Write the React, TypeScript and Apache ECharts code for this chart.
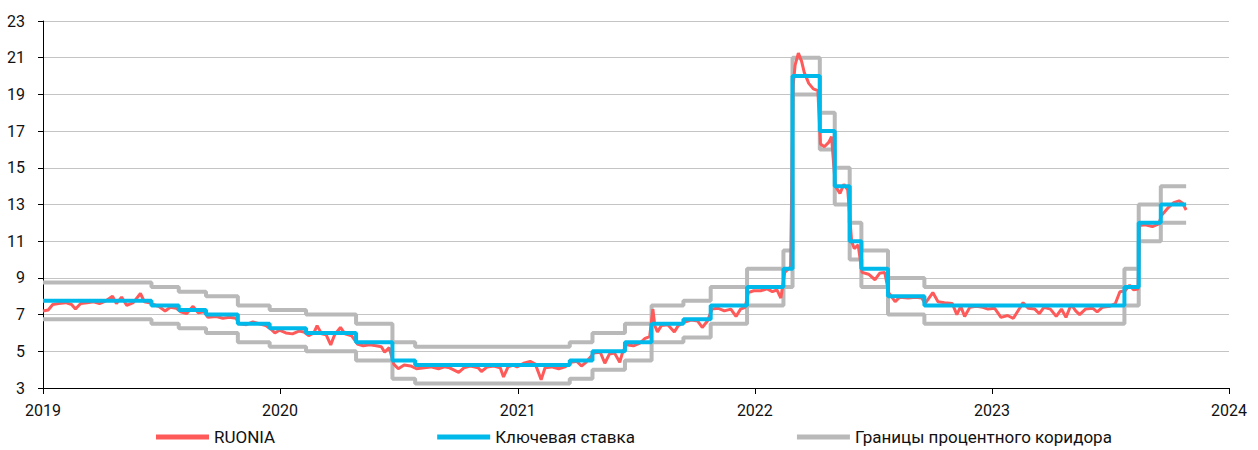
import React, { useEffect, useRef } from "react";
import * as echarts from "echarts";

// RUONIA, %
const ruonia: [string, number][] = [
  ["2019-01-01", 7.2], ["2019-01-09", 7.25], ["2019-01-16", 7.55], ["2019-01-25", 7.6], ["2019-02-05", 7.65],
  ["2019-02-14", 7.55], ["2019-02-20", 7.3], ["2019-02-28", 7.6], ["2019-03-10", 7.65], ["2019-03-20", 7.7],
  ["2019-03-29", 7.6], ["2019-04-08", 7.75], ["2019-04-18", 8.0], ["2019-04-24", 7.6], ["2019-05-02", 7.95],
  ["2019-05-10", 7.5], ["2019-05-20", 7.65], ["2019-05-31", 8.15], ["2019-06-06", 7.7], ["2019-06-14", 7.65],
  ["2019-06-20", 7.55], ["2019-06-28", 7.45], ["2019-07-08", 7.2], ["2019-07-16", 7.4], ["2019-07-25", 7.35],
  ["2019-08-01", 7.15], ["2019-08-10", 7.05], ["2019-08-20", 7.45], ["2019-08-28", 7.1], ["2019-09-06", 7.15],
  ["2019-09-12", 6.85], ["2019-09-25", 6.9], ["2019-10-05", 6.8], ["2019-10-15", 6.85], ["2019-10-25", 6.8],
  ["2019-10-31", 6.5], ["2019-11-10", 6.45], ["2019-11-20", 6.6], ["2019-11-30", 6.5], ["2019-12-10", 6.4],
  ["2019-12-18", 6.2], ["2019-12-24", 6.0], ["2019-12-31", 6.15],
  ["2020-01-10", 6.0], ["2020-01-20", 5.95], ["2020-01-30", 6.1], ["2020-02-07", 6.05], ["2020-02-14", 5.85],
  ["2020-02-22", 6.0], ["2020-02-27", 6.4], ["2020-03-05", 5.95], ["2020-03-12", 5.9], ["2020-03-19", 5.35],
  ["2020-03-25", 5.9], ["2020-04-03", 6.3], ["2020-04-10", 5.95], ["2020-04-20", 5.85], ["2020-04-29", 5.4],
  ["2020-05-08", 5.3], ["2020-05-18", 5.35], ["2020-05-28", 5.3], ["2020-06-05", 5.25], ["2020-06-10", 4.95],
  ["2020-06-17", 5.2], ["2020-06-24", 4.3], ["2020-07-01", 4.05], ["2020-07-10", 4.25], ["2020-07-20", 4.2],
  ["2020-07-29", 4.05], ["2020-08-10", 4.1], ["2020-08-20", 4.15], ["2020-09-01", 4.05], ["2020-09-10", 4.15],
  ["2020-09-18", 4.1], ["2020-10-02", 3.85], ["2020-10-10", 4.1], ["2020-10-20", 4.2], ["2020-11-01", 4.1],
  ["2020-11-06", 3.9], ["2020-11-15", 4.15], ["2020-11-25", 4.2], ["2020-12-05", 4.1], ["2020-12-10", 3.6],
  ["2020-12-17", 4.15], ["2020-12-25", 4.25], ["2020-12-31", 4.15],
  ["2021-01-10", 4.35], ["2021-01-20", 4.45], ["2021-01-28", 4.3], ["2021-02-06", 3.45], ["2021-02-12", 4.1],
  ["2021-02-22", 4.15], ["2021-03-05", 4.05], ["2021-03-15", 4.15], ["2021-03-24", 4.4], ["2021-04-02", 4.45],
  ["2021-04-09", 4.2], ["2021-04-16", 4.4], ["2021-04-28", 4.9], ["2021-05-08", 4.95], ["2021-05-15", 4.35],
  ["2021-05-22", 4.85], ["2021-05-30", 4.9], ["2021-06-07", 4.4], ["2021-06-11", 4.9], ["2021-06-17", 5.35],
  ["2021-06-28", 5.3], ["2021-07-08", 5.45], ["2021-07-16", 5.7], ["2021-07-23", 5.8], ["2021-07-28", 7.3],
  ["2021-07-31", 6.4], ["2021-08-04", 6.05], ["2021-08-10", 6.4], ["2021-08-20", 6.45], ["2021-08-30", 6.05],
  ["2021-09-05", 6.4], ["2021-09-15", 6.6], ["2021-09-25", 6.7], ["2021-10-05", 6.65], ["2021-10-12", 6.3],
  ["2021-10-20", 6.65], ["2021-10-27", 7.3], ["2021-11-05", 7.35], ["2021-11-15", 7.2], ["2021-11-25", 7.3],
  ["2021-12-03", 6.9], ["2021-12-10", 7.3], ["2021-12-17", 7.4], ["2021-12-22", 8.2], ["2021-12-30", 8.3],
  ["2022-01-10", 8.3], ["2022-01-20", 8.4], ["2022-01-28", 8.25], ["2022-02-04", 8.35], ["2022-02-10", 7.9],
  ["2022-02-16", 9.3], ["2022-02-22", 9.5], ["2022-02-25", 9.6], ["2022-03-01", 19.5], ["2022-03-04", 20.6],
  ["2022-03-09", 21.25], ["2022-03-14", 20.8], ["2022-03-18", 20.2], ["2022-03-25", 19.6], ["2022-04-01", 19.3],
  ["2022-04-08", 19.2], ["2022-04-12", 16.3], ["2022-04-18", 16.15], ["2022-04-25", 16.4], ["2022-04-29", 16.7],
  ["2022-05-05", 14.0], ["2022-05-12", 13.6], ["2022-05-18", 14.1], ["2022-05-24", 13.8], ["2022-05-30", 11.0],
  ["2022-06-03", 10.6], ["2022-06-09", 10.8], ["2022-06-15", 9.3], ["2022-06-25", 9.2], ["2022-07-05", 8.9],
  ["2022-07-12", 9.25], ["2022-07-20", 9.3], ["2022-07-26", 8.2], ["2022-08-05", 7.7], ["2022-08-12", 7.95],
  ["2022-08-25", 7.9], ["2022-09-05", 7.95], ["2022-09-15", 7.9], ["2022-09-20", 7.6], ["2022-10-02", 8.2],
  ["2022-10-10", 7.7], ["2022-10-20", 7.65], ["2022-11-01", 7.6], ["2022-11-08", 7.0], ["2022-11-14", 7.45],
  ["2022-11-20", 6.9], ["2022-11-28", 7.4], ["2022-12-08", 7.45], ["2022-12-18", 7.4], ["2022-12-26", 7.3],
  ["2023-01-05", 7.35], ["2023-01-15", 6.85], ["2023-01-25", 6.95], ["2023-02-03", 6.8], ["2023-02-10", 7.2],
  ["2023-02-18", 7.65], ["2023-02-26", 7.35], ["2023-03-08", 7.3], ["2023-03-15", 7.05], ["2023-03-22", 7.4],
  ["2023-04-01", 7.3], ["2023-04-10", 6.9], ["2023-04-18", 7.3], ["2023-04-25", 6.85], ["2023-05-03", 7.55],
  ["2023-05-10", 7.2], ["2023-05-16", 7.0], ["2023-05-25", 7.3], ["2023-06-05", 7.35], ["2023-06-12", 7.15],
  ["2023-06-20", 7.4], ["2023-07-01", 7.45], ["2023-07-10", 7.6], ["2023-07-17", 8.25], ["2023-07-25", 8.3],
  ["2023-08-01", 8.6], ["2023-08-07", 8.35], ["2023-08-14", 8.4], ["2023-08-16", 11.85], ["2023-08-25", 11.9],
  ["2023-09-05", 11.8], ["2023-09-15", 11.95], ["2023-09-19", 12.4], ["2023-09-30", 12.85], ["2023-10-08", 13.1],
  ["2023-10-16", 13.2], ["2023-10-22", 13.05], ["2023-10-27", 12.7],
];

// Key rate decisions (date from which the value applies), last entry = end of data
const keyDates = [
  "2019-01-01", "2019-06-17", "2019-07-29", "2019-09-09", "2019-10-28", "2019-12-16", "2020-02-10",
  "2020-04-27", "2020-06-22", "2020-07-27", "2021-03-22", "2021-04-26", "2021-06-15", "2021-07-26",
  "2021-09-13", "2021-10-25", "2021-12-20", "2022-02-14", "2022-02-28", "2022-04-11", "2022-05-04",
  "2022-05-27", "2022-06-14", "2022-07-25", "2022-09-19", "2023-07-24", "2023-08-15", "2023-09-18",
  "2023-10-27",
];
const keyValues = [
  7.75, 7.5, 7.25, 7.0, 6.5, 6.25, 6.0,
  5.5, 4.5, 4.25, 4.5, 5.0, 5.5, 6.5,
  6.75, 7.5, 8.5, 9.5, 20, 17, 14,
  11, 9.5, 8, 7.5, 8.5, 12, 13,
  13,
];
const corridorUpper = [
  8.75, 8.5, 8.25, 8.0, 7.5, 7.25, 7.0,
  6.5, 5.5, 5.25, 5.5, 6.0, 6.5, 7.5,
  7.75, 8.5, 9.5, 10.5, 21, 18, 15,
  12, 10.5, 9, 8.5, 9.5, 13, 14,
  14,
];
const corridorLower = [
  6.75, 6.5, 6.25, 6.0, 5.5, 5.25, 5.0,
  4.5, 3.5, 3.25, 3.5, 4.0, 4.5, 5.5,
  5.75, 6.5, 7.5, 8.5, 19, 16, 13,
  10, 8.5, 7, 6.5, 7.5, 11, 12,
  12,
];

const yTicks = { min: 3, max: 23, interval: 2 };
const xRange = { min: "2019-01-01", max: "2024-01-01" };

const NAME_RUONIA = "RUONIA";
const NAME_KEY = "Ключевая ставка";
const NAME_CORRIDOR = "Границы процентного коридора";

const FONT = "Roboto, 'Noto Sans', sans-serif";

export default function App() {
  const ref = useRef<HTMLDivElement>(null);
  useEffect(() => {
    if (!ref.current) return;
    const chart = echarts.init(ref.current, undefined, { renderer: "svg" });
    const pair = (vals: number[]) => keyDates.map((d, i) => [d, vals[i]]);
    const DAY = 24 * 3600 * 1000;
    chart.setOption({
      animation: false,
      textStyle: { fontFamily: FONT },
      grid: { left: 43, right: 29, top: 21, bottom: 62, containLabel: false },
      legend: {
        top: 426,
        left: 154,
        itemWidth: 53,
        itemHeight: 5,
        itemGap: 162,
        padding: 2,
        icon: "rect",
        textStyle: { fontSize: 17, lineHeight: 18, color: "#111", fontFamily: FONT },
        data: [NAME_RUONIA, NAME_KEY, NAME_CORRIDOR],
      },
      xAxis: {
        type: "time",
        min: xRange.min,
        max: xRange.max,
        minInterval: 365 * DAY,
        maxInterval: 366 * DAY,
        axisLine: { show: true, lineStyle: { color: "#000", width: 1 } },
        axisTick: { show: true, length: 6, lineStyle: { color: "#000" } },
        splitLine: { show: false },
        axisLabel: {
          show: true,
          margin: 14,
          fontSize: 16,
          color: "#111",
          fontFamily: FONT,
          showMinLabel: true,
          showMaxLabel: true,
          formatter: (v: number) => String(new Date(v).getFullYear()),
        },
      },
      yAxis: {
        type: "value",
        min: yTicks.min,
        max: yTicks.max,
        interval: yTicks.interval,
        axisLine: { show: true, lineStyle: { color: "#000", width: 1 } },
        axisTick: { show: true, length: 5, lineStyle: { color: "#000" } },
        splitLine: { show: true, lineStyle: { color: "#c4c4c4", width: 1 } },
        axisLabel: { margin: 18, fontSize: 16, color: "#111", fontFamily: FONT },
      },
      series: [
        {
          name: NAME_CORRIDOR,
          type: "line",
          step: "end",
          showSymbol: false,
          symbol: "none",
          data: pair(corridorUpper),
          lineStyle: { color: "#b9b9b9", width: 4 },
          itemStyle: { color: "#b9b9b9" },
        },
        {
          name: NAME_CORRIDOR,
          type: "line",
          step: "end",
          showSymbol: false,
          symbol: "none",
          data: pair(corridorLower),
          lineStyle: { color: "#b9b9b9", width: 4 },
          itemStyle: { color: "#b9b9b9" },
        },
        {
          name: NAME_RUONIA,
          type: "line",
          showSymbol: false,
          symbol: "none",
          data: ruonia,
          lineStyle: { color: "#ff5a5a", width: 3 },
          itemStyle: { color: "#ff5a5a" },
        },
        {
          name: NAME_KEY,
          type: "line",
          step: "end",
          showSymbol: false,
          symbol: "none",
          data: pair(keyValues),
          lineStyle: { color: "#00b9eb", width: 4 },
          itemStyle: { color: "#00b9eb" },
        },
      ],
    });
    return () => chart.dispose();
  }, []);
  return (
    <div
      ref={ref}
      style={{ position: "absolute", left: 0, top: 0, width: 1258, height: 450 }}
    />
  );
}
